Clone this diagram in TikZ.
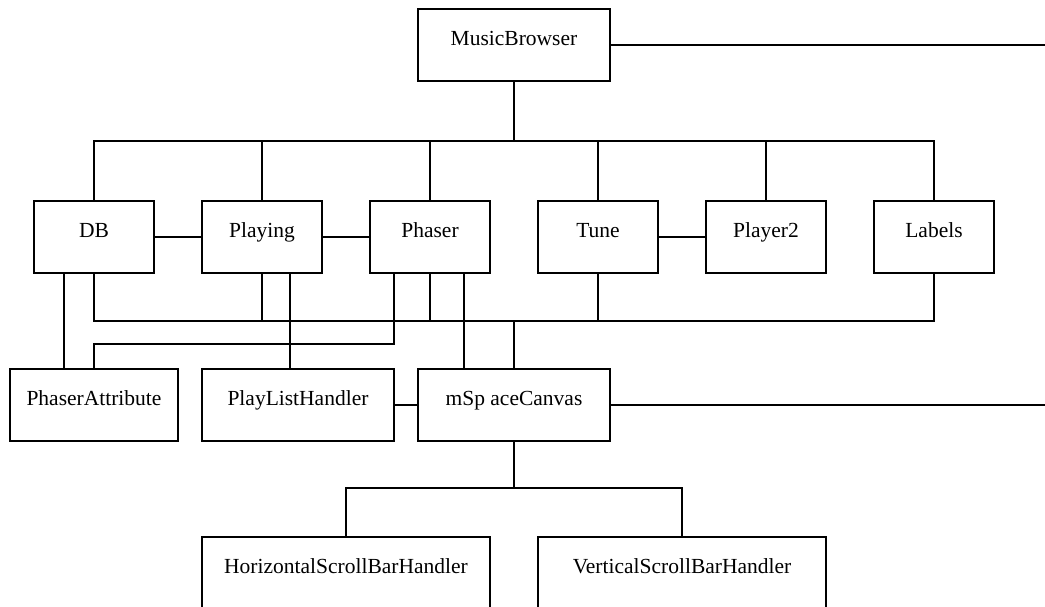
\documentclass[tikz,border=0pt]{standalone}
\usepackage{fontspec}
\setmainfont{Liberation Serif}
\begin{document}
\begin{tikzpicture}[x=1pt,y=-1pt, line width=1.7pt,
  box/.style={draw, rectangle, minimum height=72pt, inner sep=0pt,
    text height=16pt, text depth=16pt, font=\fontsize{21.5}{24}\selectfont},
  narrow/.style={box, minimum width=120pt},
  wide/.style={box, minimum width=192pt},
  wider/.style={box, minimum width=288pt},
  conn/.style={draw, line join=miter, line width=1.7pt}]
\useasboundingbox (0,0) rectangle (1045,606);
% nodes
\node[wide] (MB) at (514,45) {MusicBrowser};
\node[narrow] (DB) at (94,237) {DB};
\node[narrow] (Playing) at (262,237) {Playing};
\node[narrow] (Phaser) at (430,237) {Phaser};
\node[narrow] (Tune) at (598,237) {Tune};
\node[narrow] (Player2) at (766,237) {Player2};
\node[narrow] (Labels) at (934,237) {Labels};
\node[box, minimum width=168pt] (PA) at (94,405) {PhaserAttribute};
\node[wide] (PLH) at (298,405) {PlayListHandler};
\node[wide] (MSC) at (514,405) {mSp aceCanvas};
\node[wider] (HSB) at (346,573) {HorizontalScrollBarHandler};
\node[wider] (VSB) at (682,573) {VerticalScrollBarHandler};
% junction coordinates
\coordinate (topbus) at (514,141);
\coordinate (lowbus) at (514,321);
\coordinate (pabus) at (94,344);
\coordinate (botbus) at (514,488);
\coordinate (mbend) at (1047,45);
\coordinate (mscend) at (1047,405);
\coordinate (plhin) at (290,369);
\coordinate (mscin) at (464,369);
% connectors
\draw[conn] (MB.east) -- (mbend);
\draw[conn] (MB.south) -- (topbus);
\draw[conn] (DB.north) -- (DB.north |- topbus) -| (Labels.north);
\draw[conn] (Playing.north) -- (Playing.north |- topbus);
\draw[conn] (Phaser.north) -- (Phaser.north |- topbus);
\draw[conn] (Tune.north) -- (Tune.north |- topbus);
\draw[conn] (Player2.north) -- (Player2.north |- topbus);
\draw[conn] (DB.east) -- (Playing.west);
\draw[conn] (Playing.east) -- (Phaser.west);
\draw[conn] (Tune.east) -- (Player2.west);
\draw[conn] (DB.south) -- (DB.south |- lowbus) -| (Labels.south);
\draw[conn] (Playing.south) -- (Playing.south |- lowbus);
\draw[conn] (Phaser.south) -- (Phaser.south |- lowbus);
\draw[conn] (Tune.south) -- (Tune.south |- lowbus);
\draw[conn] (lowbus) -- (MSC.north);
\draw[conn] ([xshift=-30pt]DB.south) -- ([xshift=-30pt]PA.north);
\draw[conn] ([xshift=-36pt]Phaser.south) |- (pabus) -- (PA.north);
\draw[conn] (Playing.south -| plhin) -- (plhin);
\draw[conn] (Phaser.south -| mscin) -- (mscin);
\draw[conn] (PLH.east) -- (MSC.west);
\draw[conn] (MSC.east) -- (mscend);
\draw[conn] (MSC.south) -- (botbus);
\draw[conn] (HSB.north) |- (botbus) -| (VSB.north);
\end{tikzpicture}
\end{document}
